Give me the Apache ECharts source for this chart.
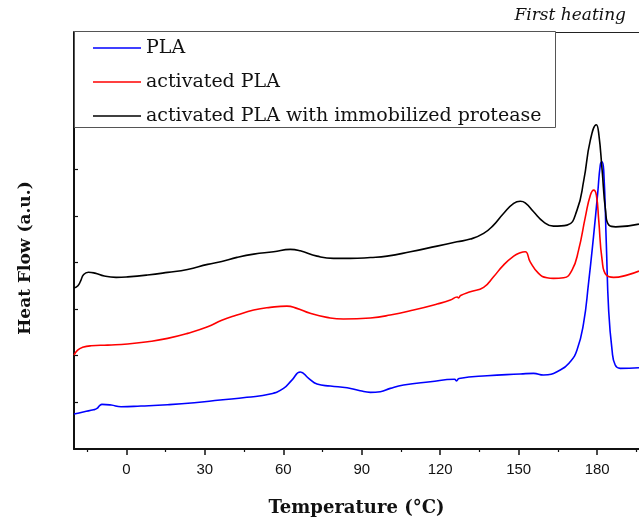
<!DOCTYPE html>
<html>
<head>
<meta charset="utf-8">
<script src="https://cdn.jsdelivr.net/npm/echarts@6/dist/echarts.min.js"></script>
<style>html,body{margin:0;padding:0;background:#fff}#c{width:639px;height:519px}</style>
</head>
<body>
<div id="c"></div>
<script>
// Temperature (°C) and heat flow (a.u.) samples
const plaT = [-20, -16.1, -12.5, -11.2, -10.2, -9.3, -5.8, -2.0, 5.6, 15.8, 26, 35.9, 46.1, 55.0, 60.1, 63.3, 66.5, 69.7, 72.9, 78.0, 84.4, 89.4, 93.3, 97.1, 100.9, 106.0, 116.2, 125.5, 126.2, 127.2, 137.9, 150.6, 155.7, 159.5, 165.9, 169.7, 172.3, 174.8, 176.7, 178.6, 180.2, 181.2, 181.8, 182.5, 183.5, 184.4, 185.7, 186.9, 188.8, 196];
const plaV = [0.75, 0.80, 0.84, 0.87, 0.93, 0.957, 0.943, 0.906, 0.921, 0.949, 0.992, 1.05, 1.108, 1.178, 1.30, 1.478, 1.65, 1.515, 1.393, 1.35, 1.313, 1.249, 1.215, 1.228, 1.30, 1.371, 1.442, 1.494, 1.46, 1.51, 1.571, 1.607, 1.622, 1.586, 1.693, 1.871, 2.121, 2.693, 3.55, 4.549, 5.479, 6.085, 6.156, 5.978, 4.408, 2.978, 2.121, 1.8, 1.729, 1.742];

const actT = [-20, -18.6, -16.7, -13.5, -7.1, 0.5, 8.1, 15.8, 23.4, 31.1, 36.5, 42.3, 48.7, 55.0, 61.4, 65.2, 70.3, 76.7, 83.0, 93.3, 100.9, 109.8, 118.8, 123.9, 126.5, 127.0, 127.8, 131.5, 136.6, 140.4, 144.2, 148.1, 150.6, 152.5, 154.4, 157.6, 160.8, 163.3, 167.2, 170.4, 172.9, 175.5, 177.4, 178.7, 179.7, 180.6, 181.9, 183.5, 186.3, 191.4, 196];
const actV = [2.014, 2.121, 2.179, 2.213, 2.228, 2.25, 2.299, 2.372, 2.479, 2.62, 2.76, 2.871, 2.978, 3.036, 3.064, 3.015, 2.908, 2.822, 2.786, 2.81, 2.871, 2.978, 3.107, 3.193, 3.26, 3.24, 3.29, 3.37, 3.465, 3.692, 3.943, 4.135, 4.206, 4.228, 4.013, 3.765, 3.671, 3.658, 3.671, 3.835, 4.264, 4.978, 5.442, 5.55, 5.442, 4.907, 4.05, 3.728, 3.679, 3.728, 3.814];

const immT = [-20, -18.5, -17.5, -16.3, -14.5, -12, -8.4, -3.9, 0.5, 8.1, 15.8, 23.4, 31.1, 36.5, 42.3, 48.7, 56.3, 62.7, 66.5, 72.9, 79.2, 85.6, 93.3, 99.7, 108.6, 118.8, 126.4, 131.5, 136.6, 140.4, 144.2, 148.1, 150.6, 152.5, 155.7, 159.5, 163.3, 168.5, 172.3, 174.9, 177.4, 179.7, 180.6, 181.9, 183.2, 184.5, 187.1, 196];
const immV = [3.45, 3.5, 3.6, 3.74, 3.79, 3.77, 3.707, 3.68, 3.69, 3.73, 3.786, 3.85, 3.958, 4.02, 4.108, 4.178, 4.228, 4.279, 4.249, 4.135, 4.086, 4.086, 4.105, 4.135, 4.228, 4.35, 4.442, 4.5, 4.622, 4.8, 5.05, 5.265, 5.31, 5.277, 5.085, 4.87, 4.778, 4.8, 5.121, 5.764, 6.621, 6.95, 6.765, 5.978, 5.121, 4.8, 4.763, 4.821];

const seriesNames = ['PLA', 'activated PLA', 'activated PLA with immobilized protease'];
const xTicks = [0, 30, 60, 90, 120, 150, 180];
const xMinorTicks = [-15, 15, 45, 75, 105, 135, 165, 195];
const yTicks = [1, 2, 3, 4, 5, 6, 7, 8];

const zip = (a, b) => a.map((v, i) => [v, b[i]]);
const chart = echarts.init(document.getElementById('c'), null, {renderer: 'canvas'});
const grid = {left: 74, right: 0, top: 32, bottom: 70, containLabel: false, outerBoundsMode: 'none'};
const serif = 'DejaVu Serif';
const mkLine = (name, data, color) => ({
  name, type: 'line', data, symbol: 'none', smooth: 0.5,
  lineStyle: {color, width: 1.6}, itemStyle: {color}, animation: false, z: 3
});
chart.setOption({
  animation: false,
  title: {text: 'First heating', right: 13, top: 7, padding: 0,
    textStyle: {fontFamily: serif, fontStyle: 'italic', fontWeight: 'normal', fontSize: 17, color: '#111'}},
  grid,
  graphic: [{type: 'rect', left: 74, top: 31, shape: {width: 481, height: 96},
    style: {fill: '#fff', stroke: '#555', lineWidth: 1}, z: 5}],
  legend: {orient: 'vertical', left: 93, top: 38, padding: 0, itemWidth: 48, itemHeight: 1.6, itemGap: 14,
    icon: 'rect', data: seriesNames, z: 10, selectedMode: false,
    textStyle: {fontFamily: serif, fontSize: 19, color: '#111', lineHeight: 20}},
  xAxis: [{
    type: 'value', min: -20, max: 196, position: 'bottom',
    name: 'Temperature (°C)', nameLocation: 'middle', nameGap: 50,
    nameTextStyle: {fontFamily: serif, fontWeight: 'bold', fontSize: 18, color: '#111'},
    axisLine: {onZero: false, lineStyle: {color: '#111', width: 2}},
    axisTick: {show: true, inside: false, length: 6, customValues: xTicks, lineStyle: {color: '#111', width: 1.5}},
    axisLabel: {customValues: xTicks, margin: 13, fontFamily: 'Liberation Sans', fontSize: 15, color: '#111'},
    splitLine: {show: false}
  }, {
    type: 'value', min: -20, max: 196, position: 'bottom', gridIndex: 0,
    axisLine: {show: false, onZero: false},
    axisTick: {show: true, length: 3, customValues: xMinorTicks, lineStyle: {color: '#111', width: 1.2}},
    axisLabel: {show: false}, splitLine: {show: false}
  }, {
    type: 'value', min: -20, max: 196, position: 'top', gridIndex: 0,
    axisLine: {show: true, onZero: false, lineStyle: {color: '#222', width: 1.2}},
    axisTick: {show: false}, axisLabel: {show: false}, splitLine: {show: false}
  }],
  yAxis: {
    type: 'value', min: 0, max: 8.94, position: 'left',
    name: 'Heat Flow (a.u.)', nameLocation: 'middle', nameGap: 40, nameRotate: 90,
    nameTextStyle: {fontFamily: serif, fontWeight: 'bold', fontSize: 17, color: '#111', padding: [0, 35, 0, 0]},
    axisLine: {onZero: false, lineStyle: {color: '#111', width: 2}},
    axisTick: {show: true, inside: true, length: 4, customValues: yTicks, lineStyle: {color: '#111', width: 1.2}},
    axisLabel: {show: false}, splitLine: {show: false}
  },
  series: [
    mkLine(seriesNames[0], zip(plaT, plaV), '#0000ff'),
    mkLine(seriesNames[1], zip(actT, actV), '#ff0000'),
    mkLine(seriesNames[2], zip(immT, immV), '#000000')
  ]
});
</script>
</body>
</html>
